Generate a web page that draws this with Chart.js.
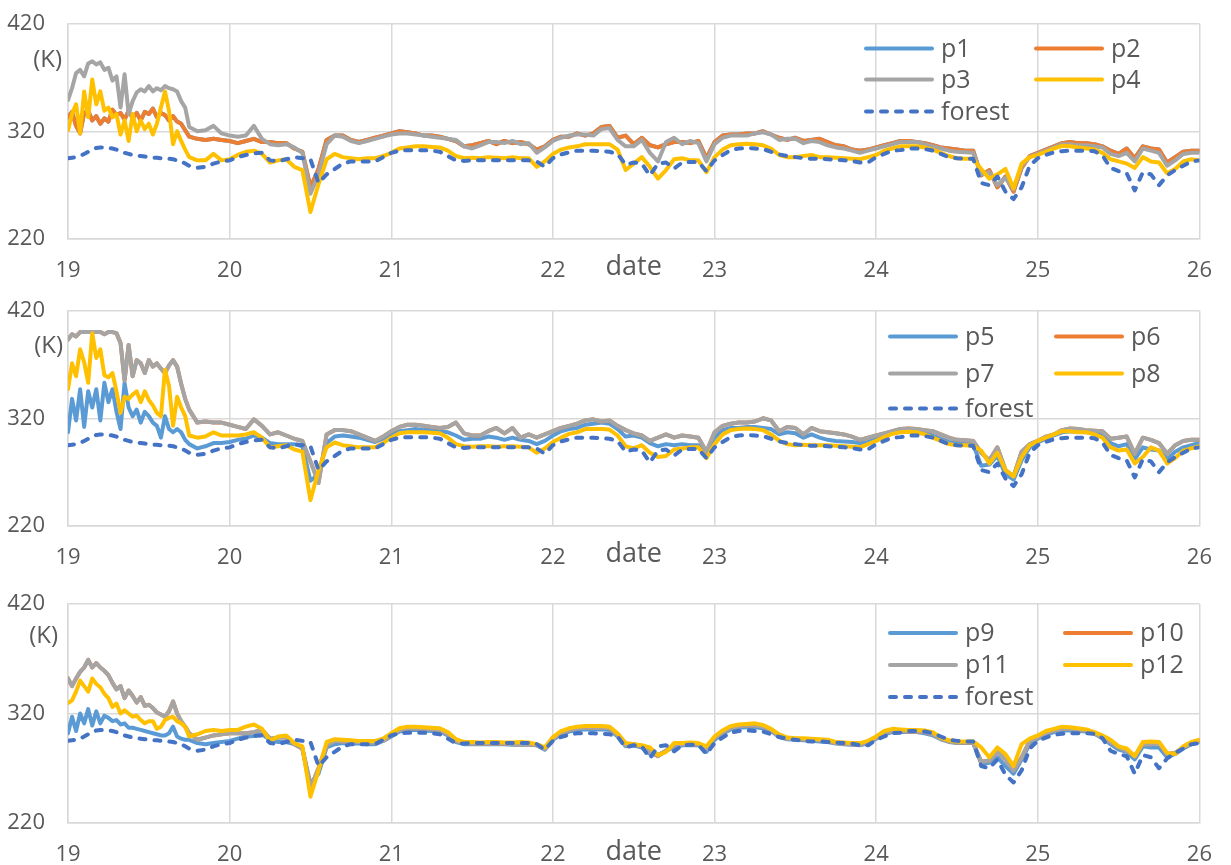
<!DOCTYPE html>
<html><head><meta charset="utf-8">
<script src="https://cdn.jsdelivr.net/npm/chart.js@4.4.1/dist/chart.umd.min.js"></script>
<style>
html,body{margin:0;padding:0;background:#fff;}
#wrap{position:relative;width:1231px;height:865px;overflow:hidden;background:#fff;}
canvas{position:absolute;left:0;}
</style></head><body>
<div id="wrap">
<canvas id="c1" width="1231" height="287" style="top:0;width:1231px;height:287px"></canvas>
<canvas id="c2" width="1231" height="290" style="top:287px;width:1231px;height:290px"></canvas>
<canvas id="c3" width="1231" height="288" style="top:577px;width:1231px;height:288px"></canvas>
</div>
<script>
const dates = [19,19.025,19.05,19.075,19.1,19.125,19.15,19.175,19.2,19.225,19.25,19.275,19.3,19.325,19.35,19.375,19.4,19.425,19.45,19.475,
19.5,19.525,19.55,19.575,19.6,19.625,19.65,19.675,19.7,19.725,19.75,
19.8,19.85,19.9,19.95,
20,20.05,20.1,20.15,20.2,20.25,20.3,20.35,20.4,20.45,20.5,20.55,20.6,20.65,20.7,20.75,20.8,20.85,20.9,20.95,
21,21.05,21.1,21.15,21.2,21.25,21.3,21.35,21.4,21.45,21.5,21.55,21.6,21.65,21.7,21.75,21.8,21.85,21.9,21.95,
22,22.05,22.1,22.15,22.2,22.25,22.3,22.35,22.4,22.45,22.5,22.55,22.6,22.65,22.7,22.75,22.8,22.85,22.9,22.95,
23,23.05,23.1,23.15,23.2,23.25,23.3,23.35,23.4,23.45,23.5,23.55,23.6,23.65,23.7,23.75,23.8,23.85,23.9,23.95,
24,24.05,24.1,24.15,24.2,24.25,24.3,24.35,24.4,24.45,24.5,24.55,24.6,24.65,24.7,24.75,24.8,24.85,24.9,24.95,
25,25.05,25.1,25.15,25.2,25.25,25.3,25.35,25.4,25.45,25.5,25.55,25.6,25.65,25.7,25.75,25.8,25.85,25.9,25.95,26];

const yTicks = [220, 320, 420];
const xTicks = [19, 20, 21, 22, 23, 24, 25, 26];

const forest = [295,295.5,296,297,299,301,303,304.5,305,305,304.5,304,303,301.5,300,299,298,297.5,297,296.5,
296,295.5,295.5,295,295,294.5,294,293,292,290,288,
286,287,290,292,
293,296,298,299.5,300,293,292,294,296,295,
294,272,280,285,290,292,292,292,292,296,
300,302,302.5,302.5,302.5,302,301,297,293,292.5,
293,293,293,293,293,293,293,293,292,287,
295,298.5,300.5,302,302,302,301.5,301,299,289,
291,290,279,290,291,285.5,291,291.5,291.5,283,
293,298,302.5,304,304.5,304,303.5,301,298.5,297,
296,295,294.5,294.5,294,293.5,293,292.5,291,291,
296,299,302,302.5,304,304,303.5,302,299,296,
295,294.5,294.5,272,270,278,264,257,268,288,
295,298,300.5,301.5,302,302,302,301.5,297.5,286,
283,281,265,282,280,270,279,284,288,292,
293];

const p1 = [333,338,325,318,337,339,330,334,327,332,329,340,335,337,331,339,332,337,330,338,
336,341,333,337,335,330,334,329,327,321,315,
313,312,313,312,
311,309,311,313,310,310,309,309,304,301,
268,285,312,316,316,312,310,312,314,316,
318,320,319,318,316,316,315,313,311,306,
307,309,311,308,311,309,310,308,303,306,
312,315,315,318,316,318,324,325,314,316,
308,314,307,305,308,310,310,309,311,295,
310,316,317,317,318,318,320,317,314,312,
314,311,312,313,310,307,306,303,302,303,
305,307,309,311,311,310,309,307,305,304,
303,302,302,279,284,268,278,264,286,297,
300,303,306,309,310,309,309,308,306,302,
299,304,295,306,304,303,291,296,301,302,
302];
const p2 = [333,338,325,318,337,339,330,334,327,332,329,340,335,337,331,339,332,337,330,338,
336,341,333,337,335,330,334,329,327,321,315,
313,312,313,312,
311,309,311,313,310,310,309,309,304,301,
268,285,312,316,316,312,310,312,314,316,
318,320,319,318,316,316,315,313,311,306,
307,309,311,308,311,309,310,308,303,306,
312,315,315,318,316,318,324,325,314,316,
308,314,307,305,308,310,310,309,311,295,
310,316,317,317,318,318,320,317,314,312,
314,311,312,313,310,307,306,303,302,303,
305,307,309,311,311,310,309,307,305,304,
303,302,302,279,284,268,278,264,286,297,
300,303,306,309,310,309,309,308,306,302,
299,304,295,306,304,303,291,296,301,302,
302];
const p3 = [349,360,374,377,371,383,385,382,384,377,379,367,371,342,373,336,348,356,359,357,
362,357,360,358,362,360,359,357,348,342,324,
320,321,325,318,
316,315,316,325,313,308,307,308,305,300,
262,280,308,316,315,311,309,311,313,315,
317,318,318,317,316,315,314,313,312,306,
304,307,310,310,309,311,308,309,300,305,
311,314,316,317,317,316,322,323,312,306,
306,312,300,292,310,314,308,311,309,292,
308,314,316,316,316,318,319,317,312,313,
313,309,311,310,307,305,304,302,300,302,
304,306,308,310,310,310,308,306,304,302,
301,300.5,300,280,282,270,277,266,288,296,
299,302,305,308,308,307,307,306,305,299,
297,300,292,304,302,300,288,293,299,300,
300];
const p4 = [321,336,345,318,357,333,368,345,357,339,342,333,336,317,330,311,336,320,330,322,
327,317,327,342,357,339,308,320,311,303,296,
293,293,299,293,
294,298,301,302,299,291,293,294,287,284,
245,271,294,299,296,295,294,295,295,297,
300,304,305,306,306,305.5,305,302,297,295,
295.5,295,296,295.5,295,296,295,295,287,292,
299,303,305,306,308,308,308,308,303,284,
290,296,287,276,284,294,295,293,293,282,
296,303,307,308,308.5,308,307,304,298,296,
296,297,298,296,296,295.5,295,294.5,294,296,
298,302,304,306,306,306,305,303,300,297,
295,294.5,294.5,285,276,280,285,267,290,296,
298,301,304,306.5,306,305,304,303,300,294,
292,290,286,296,292,291,281,285,292,294,
293];

const p5 = [307,338,318,347,312,345,330,347,318,353,335,347,326,310,353,330,322,328,316,326,
322,316,313,302,322,310,307,310,307,300,296,
292,294,297,297,
298,300,301,304,302,297,296,296,296,294,
262,268,297,303,304,303,302,300,298,301,
305,308,309,310,309,309,308,307,304,300,
301,301,303,302,300,302,300,299,296,299,
304,308,310,311,314,315,316,315,310,303,
304,302,297,294,296,295,296,295,295,286,
302,309,311,311,312,312,311,310,305,307,
306,302,305,302,300,299,298.5,298,297,298,
301,304,306.5,308,308.5,308,306.5,304,301,298,
297,296.5,296,276,277,285,268,263,281,293,
297.5,301,304,307,308,307.5,307,306,304,297,
294,296,282,293,291,290,282,289,293,295,
297];
const p6 = [393,398,396,400,400,400,400,400,400,398,400,400,399,390,355,388,359,374,371,362,
374,368,371,366,362,369,374,368,352,338,328,
316,317,316,316,
314,312,310,319,313,305,307,304,301,299,
280,260,305,309,309,308,305,302,299,303,
308,312,314,314,313,312,311,312,316,306,
304,304,308,311,306,311,302,305,302,305,
308,311,313,315,318,319,317,318,313,309,
306,304,299,302,305,302,304,303,302,289,
307,313,315,316,316,317,320,318,308,312,
311,305,311,308,307,306,305,303,300,302,
304,306,308,310,310.5,310,309,308,305,302,
300,299.5,299,288,281,293,272,266,289,296,
299,303,305,309,310.5,310,309,308.5,308,301,
302,303,287,302,300,297,287,295,299,300,
300];
const p7 = [393,398,396,400,400,400,400,400,400,398,400,400,399,390,355,388,359,374,371,362,
374,368,371,366,362,369,374,368,352,338,328,
316,317,316,316,
314,312,310,319,313,305,307,304,301,299,
280,260,305,309,309,308,305,302,299,303,
308,312,314,314,313,312,311,312,316,306,
304,304,308,311,306,311,302,305,302,305,
308,311,313,315,318,319,317,318,313,309,
306,304,299,302,305,302,304,303,302,289,
307,313,315,316,316,317,320,318,308,312,
311,305,311,308,307,306,305,303,300,302,
304,306,308,310,310.5,310,309,308,305,302,
300,299.5,299,288,281,293,272,266,289,296,
299,303,305,309,310.5,310,309,308.5,308,301,
302,303,287,302,300,297,287,295,299,300,
300];
const p8 = [347,371,359,384,372,353,399,376,384,360,358,362,345,325,340,338,342,345,335,345,
337,332,325,322,365,350,313,340,330,322,304,
302,303,307,304,
304,304,305,307,302,293,294,295,291,289,
244,272,293,297.5,295,294,293,293,293,297,
302,306,307,307,307,306.5,306,302,296,294,
293.5,294,294,293.5,294,294,293.5,293,288,292,
298,302,305.5,307,310,310,310,309.5,304,294,
292,295,288,284,285,291,292,293,293,283,
296,305,309,310,310.5,310,309,305,299,296,
295,295.5,295,295,295,294.5,294,293.5,293,296,
299,302.5,305.5,307,307.5,307,305,302,299,296,
295,295,294.5,290,278,288,272,266,284,295,
299,302,305,308,308,307,307,305,302,293,
290,291,278,284,293,290,278,283,290,292,
294];

const p9 = [302,317,304,320,311,324,309,322,311,318,316,313,314,310,311,307,307,306,305,304,
303,302,301,300,300,302,308,299,297,296,296,
293,292,293,294,
295,297,299,299.5,301,296,294,294,292,288,
256,265,289,292,293,292.5,292.5,292,292,295,
299,303.5,305,305,304.5,304,303.5,300,294,292,
292,292,292,292,292,291.5,291.5,291.5,291,287,
296,301,303.5,305,305.5,305.5,305.5,305,299,290,
291,289,283,282,286,289,291,291,291,285,
296,301.5,305.5,307,307.5,307.5,306.5,304,298.5,296.5,
296,295.5,295,294.5,294,292.5,292,291.5,291,293,
297,301,303,303,303,303,302,300,296.5,294,
293,293,293,274,275,280,272,265,278,292,
297,300.5,303,304.5,304.5,304,303.5,301.5,297.5,292,
287,285,278,290,289,289,280,283,288,292,
294];
const p10 = [352,345,352,358,362,369,362,366,362,359,355,348,342,345,334,341,336,330,335,327,
328,325,321,319,317,322,331,320,313,308,302,
296,298,300,301,
302,302,302,303,305,297,298,298,292,288,
252,270,291,295,294.5,294,294,293.5,293.5,295,
300,305,306.5,306.5,306,305.5,305,301,295,293,
292.5,292.5,292.5,292.5,292.5,292,292,292,291,288,
297,302,305,306.5,307,307,307,306.5,300,291,
292,290,285,281,286,291,292,292,292,288,
298,303,307,308.5,309,309,308,305,299,297,
296.5,296.5,296,295.5,295,293,292.5,292,291.5,294,
298,302.5,304,304,303.5,303.5,303,301,297,294.5,
293.5,293.5,293.5,276,277,285,278,268,280,295,
298,302,304.5,306,306,305,304.5,302,298,294,
289,286,281,292,292,293,283,284,289,293,
295];
const p11 = [352,345,352,358,362,369,362,366,362,359,355,348,342,345,334,341,336,330,335,327,
328,325,321,319,317,322,331,320,313,308,302,
296,298,300,301,
302,302,302,303,305,297,298,298,292,288,
252,270,291,295,294.5,294,294,293.5,293.5,295,
300,305,306.5,306.5,306,305.5,305,301,295,293,
292.5,292.5,292.5,292.5,292.5,292,292,292,291,288,
297,302,305,306.5,307,307,307,306.5,300,291,
292,290,285,281,286,291,292,292,292,288,
298,303,307,308.5,309,309,308,305,299,297,
296.5,296.5,296,295.5,295,293,292.5,292,291.5,294,
298,302.5,304,304,303.5,303.5,303,301,297,294.5,
293.5,293.5,293.5,276,277,285,278,268,280,295,
298,302,304.5,306,306,305,304.5,302,298,294,
289,286,281,292,292,293,283,284,289,293,
295];
const p12 = [329.5,332,340,350,345,340,352,347,344,338,334,326,329,320,323,320,317,318,314,311,
313,313,306,308,314,316,317,313,311,308,299,
301,304,305,304,
305,305,308,310,306,295,299,300,293,290,
244,268,294,296.5,296,295.5,295,295,295,297,
302,306.5,308,308,307.5,307,306.5,303,296.5,294,
294,293.5,294,294,293.5,293.5,294,293.5,292,289,
298.5,304,306.5,308,308.5,308.5,308.5,308,302,293,
292,291,289,282,285,293,293,293.5,293,290,
299,304.5,308.5,310,310.5,311,309.5,306,301,298,
297.5,297.5,297,296.5,296,294,293.5,293,293,295,
299,304,306,305.5,305,305,304.5,303,298,295.5,
294.5,294.5,294.5,289,280,289,283,272,292,297,
300,304,306,308,307.5,306.5,305.5,303,300,296,
290,288,281,294,294.5,294,284,283,290,294,
296];

const COLORS = ['#5B9BD5', '#ED7D31', '#A5A5A5', '#FFC000'];
const FOREST_COLOR = '#4472C4';
const TEXT = '#595959';
const GRID = '#D9D9D9';
const FONT = '"Open Sans", "Liberation Sans", sans-serif';

const overlay = {
  id: 'overlay',
  afterDraw(chart, args, o) {
    const ctx = chart.ctx, ca = chart.chartArea;
    ctx.save();
    ctx.fillStyle = TEXT;
    ctx.textBaseline = 'alphabetic';
    ctx.font = '24px ' + FONT;
    ctx.textAlign = 'right';
    ctx.fillText('(K)', o.kRight, ca.top + o.kBase);
    ctx.font = '27px ' + FONT;
    ctx.textAlign = 'center';
    ctx.fillText('date', (ca.left + ca.right) / 2, ca.bottom + o.dateBase);
    ctx.font = '25px ' + FONT;
    ctx.textAlign = 'left';
    ctx.textBaseline = 'middle';
    chart.data.datasets.forEach((d, i) => {
      const col = i % 2, row = Math.floor(i / 2);
      const x0 = o.legX[col], y = ca.top + o.legY[row];
      ctx.beginPath();
      ctx.strokeStyle = d.borderColor;
      ctx.lineWidth = 4;
      ctx.lineCap = 'round';
      ctx.setLineDash(d.borderDash || []);
      ctx.moveTo(x0 + 2, y);
      ctx.lineTo(x0 + 68, y);
      ctx.stroke();
      ctx.setLineDash([]);
      ctx.fillText(d.label, x0 + 77, y + 1);
    });
    ctx.restore();
  }
};

function pts(arr) { return dates.map((x, i) => ({ x: x, y: arr[i] })); }

function makeChart(id, names, series, cfg) {
  const datasets = series.map((s, i) => ({
    label: names[i], data: pts(s), borderColor: COLORS[i], backgroundColor: COLORS[i],
    borderWidth: 4, pointRadius: 0, tension: 0, order: 4 - i,
    borderJoinStyle: 'round', borderCapStyle: 'round'
  }));
  datasets.push({
    label: 'forest', data: pts(forest), borderColor: FOREST_COLOR, backgroundColor: FOREST_COLOR,
    borderWidth: 4, pointRadius: 0, tension: 0, order: 0, borderDash: [6, 9],
    borderCapStyle: 'round', borderJoinStyle: 'round'
  });
  return new Chart(document.getElementById(id), {
    type: 'line',
    data: { datasets },
    options: {
      responsive: false, animation: false, devicePixelRatio: 1,
      layout: { padding: { top: cfg.top, right: 22, left: 0, bottom: 0 } },
      plugins: { legend: { display: false }, tooltip: { enabled: false }, overlay: cfg.ov },
      scales: {
        x: {
          type: 'linear', min: xTicks[0], max: xTicks[xTicks.length - 1],
          afterBuildTicks(s) { s.ticks = xTicks.map(v => ({ value: v })); },
          ticks: { color: TEXT, font: { family: FONT, size: 22 }, padding: 19, maxRotation: 0, autoSkip: false },
          grid: { color: GRID, lineWidth: 1.5, drawTicks: false },
          border: { color: GRID, width: 1.5 },
          afterFit(s) { s.height = cfg.xh; }
        },
        y: {
          min: yTicks[0], max: yTicks[yTicks.length - 1],
          afterBuildTicks(s) { s.ticks = yTicks.map(v => ({ value: v })); },
          ticks: { color: TEXT, font: { family: FONT, size: 22, lineHeight: 0.05 }, padding: 23 },
          grid: { color: GRID, lineWidth: 1.5, drawTicks: false },
          border: { color: GRID, width: 1.5 },
          afterFit(s) { s.width = 68; }
        }
      }
    },
    plugins: [overlay]
  });
}

makeChart('c1', ['p1', 'p2', 'p3', 'p4'], [p1, p2, p3, p4],
  { top: 22, xh: 48, ov: { kRight: 62, kBase: 43, dateBase: 35.7, legX: [864, 1034], legY: [25, 56, 88] } });
makeChart('c2', ['p5', 'p6', 'p7', 'p8'], [p5, p6, p7, p8],
  { top: 22, xh: 51, ov: { kRight: 63, kBase: 42.7, dateBase: 35.7, legX: [888, 1054], legY: [26, 63, 98] } });
makeChart('c3', ['p9', 'p10', 'p11', 'p12'], [p9, p10, p11, p12],
  { top: 27, xh: 42, ov: { kRight: 58, kBase: 39.3, dateBase: 36.7, legX: [888, 1063], legY: [29, 61, 93] } });
</script>
</body></html>
